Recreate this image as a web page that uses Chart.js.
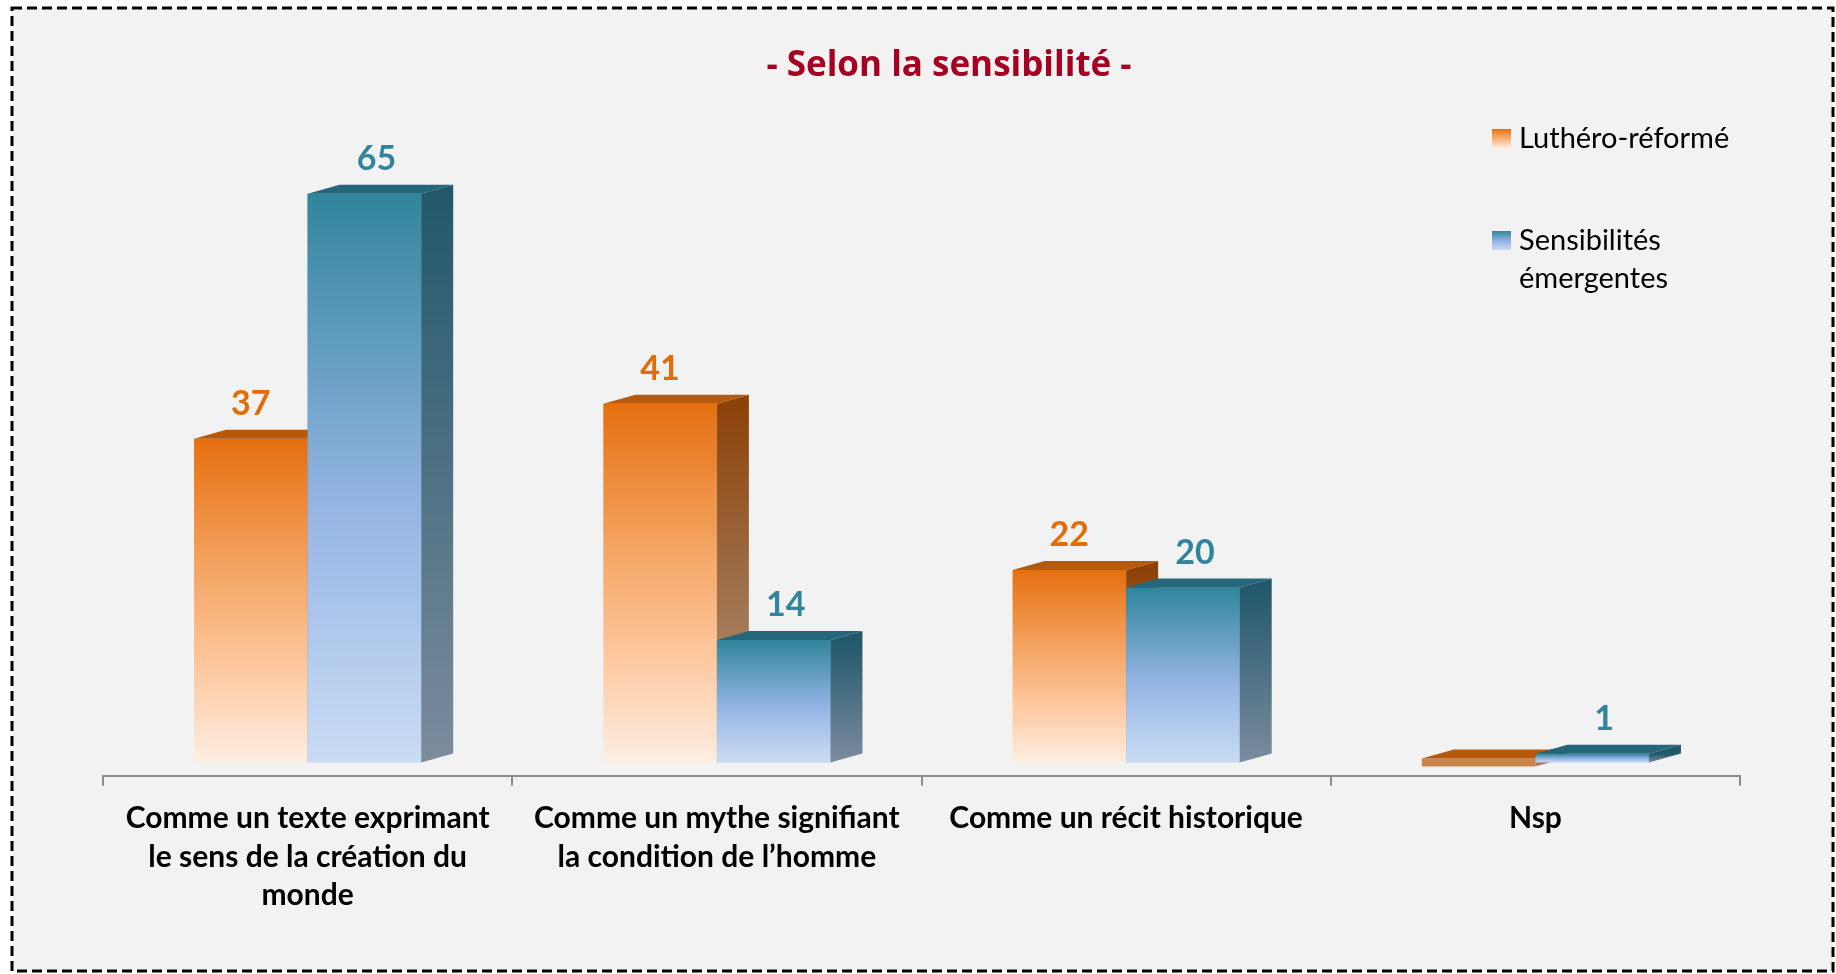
<!DOCTYPE html>
<html>
<head>
<meta charset="utf-8">
<script src="https://cdn.jsdelivr.net/npm/chart.js@4.4.0/dist/chart.umd.min.js"></script>
<style>
html,body{margin:0;padding:0;background:#fff;}
#wrap{position:absolute;left:0;top:0;width:1836px;height:974px;}
</style>
</head>
<body>
<div id="wrap"><canvas id="c" width="1836" height="974"></canvas></div>
<script>
// data
const TITLE = "- Selon la sensibilité -";
const categories = [
  ["Comme un texte exprimant", "le sens de la création du", "monde"],
  ["Comme un mythe signifiant", "la condition de l\u2019homme"],
  "Comme un récit historique",
  "Nsp"
];
const seriesNames = ["Luthéro-réformé", "Sensibilités émergentes"];
const lutheroReforme = [37, 41, 22, 0];
const sensibilitesEmergentes = [65, 14, 20, 1];

// look
const ORANGE_FRONT = [[0, "#e56f10"], [0.4, "#f4a462"], [0.7, "#fdc79d"], [1, "#fdeee2"]];
const BLUE_FRONT = [[0, "#31859c"], [0.55, "#95b5e4"], [1, "#cadcf3"]];
const ORANGE_SIDE = [[0, "#8c4208"], [1, "#b09a88"]];
const BLUE_SIDE = [[0, "#22586a"], [1, "#7c8c9f"]];
const ORANGE_TOP = "#b5590c", BLUE_TOP = "#25677a";
const LABEL_COLORS = ["#e36c0a", "#31849b"];
const DX = 32, DY = -9;

function fill(stops, flat){
  return function(c){
    const chart = c.chart;
    if(!chart.chartArea || c.type !== "data") return stops[0][1];
    if(c.raw === 0) return flat;
    const y = chart.scales.y;
    const g = chart.ctx.createLinearGradient(0, y.getPixelForValue(c.raw), 0, y.getPixelForValue(0));
    stops.forEach(s => g.addColorStop(s[0], s[1]));
    return g;
  };
}

function faces(ctx, el, sideStops, topColor){
  const p = el.getProps(["x", "y", "base", "width"], true);
  const top = Math.min(p.y, p.base), bot = Math.max(p.y, p.base);
  const l = p.x - p.width/2, r = p.x + p.width/2;
  const g = ctx.createLinearGradient(0, top, 0, bot);
  sideStops.forEach(s => g.addColorStop(s[0], s[1]));
  ctx.fillStyle = g;
  ctx.beginPath();
  ctx.moveTo(r, top); ctx.lineTo(r+DX, top+DY); ctx.lineTo(r+DX, bot+DY); ctx.lineTo(r, bot);
  ctx.closePath(); ctx.fill();
  ctx.fillStyle = topColor;
  ctx.beginPath();
  ctx.moveTo(l, top); ctx.lineTo(l+DX, top+DY); ctx.lineTo(r+DX, top+DY); ctx.lineTo(r, top);
  ctx.closePath(); ctx.fill();
}

const frame = {
  id: "frame",
  beforeDraw(chart){
    const ctx = chart.ctx;
    ctx.save();
    ctx.fillStyle = "#fff"; ctx.fillRect(0, 0, chart.width, chart.height);
    ctx.fillStyle = "#f2f2f2"; ctx.fillRect(12, 8, 1821, 963);
    ctx.strokeStyle = "#000"; ctx.lineWidth = 3; ctx.setLineDash([10, 5]);
    ctx.strokeRect(12, 8, 1821, 963);
    ctx.restore();
  }
};

const blocks = {
  id: "blocks",
  afterDatasetsDraw(chart){
    const ctx = chart.ctx;
    const mo = chart.getDatasetMeta(0), mb = chart.getDatasetMeta(1);
    ctx.save();
    mo.data.forEach(el => faces(ctx, el, ORANGE_SIDE, ORANGE_TOP));
    mb.data.forEach(el => { el.draw(ctx); faces(ctx, el, BLUE_SIDE, BLUE_TOP); });
    // values
    ctx.font = "bold 34px Lato";
    ctx.textAlign = "center"; ctx.textBaseline = "middle";
    [mo, mb].forEach((m, di) => {
      const vals = chart.data.datasets[di].data;
      m.data.forEach((el, i) => {
        if(!vals[i]) return;
        const p = el.getProps(["x", "y"], true);
        ctx.fillStyle = LABEL_COLORS[di];
        ctx.fillText(String(vals[i]), p.x + (di ? 12 : 0), p.y - 35);
      });
    });
    ctx.restore();
  },
  afterDraw(chart){
    const ctx = chart.ctx;
    ctx.save();
    ctx.font = "bold 35px 'Open Sans'";
    ctx.fillStyle = "#a50021";
    ctx.textAlign = "center"; ctx.textBaseline = "middle";
    ctx.fillText(TITLE, 949, 66);
    // legend
    ctx.font = "29px Lato";
    ctx.textAlign = "left"; ctx.textBaseline = "alphabetic";
    const sw = [ORANGE_FRONT, BLUE_FRONT];
    const ys = [129, 231];
    seriesNames.forEach((name, i) => {
      const g = ctx.createLinearGradient(0, ys[i], 0, ys[i] + 19);
      sw[i].forEach(s => g.addColorStop(s[0], s[1]));
      ctx.fillStyle = g;
      ctx.fillRect(1492, ys[i], 19, 19);
      ctx.fillStyle = "#000";
      const lines = ctx.measureText(name).width > 240 ? name.split(" ") : [name];
      lines.forEach((t, k) => ctx.fillText(t, 1519, ys[i] + 19 + k * 38));
    });
    ctx.restore();
  }
};

function build(){
  new Chart(document.getElementById("c"), {
    type: "bar",
    data: {
      labels: categories,
      datasets: [
        { label: seriesNames[0], data: lutheroReforme, backgroundColor: fill(ORANGE_FRONT, "#c8864c"),
          minBarLength: 8, categoryPercentage: 0.555, barPercentage: 1 },
        { label: seriesNames[1], data: sensibilitesEmergentes, backgroundColor: fill(BLUE_FRONT, "#c8864c"),
          categoryPercentage: 0.555, barPercentage: 1 }
      ]
    },
    options: {
      responsive: false,
      animation: false,
      layout: { padding: { left: 103, right: 96, top: 150, bottom: 46 } },
      plugins: { legend: { display: false }, title: { display: false }, tooltip: { enabled: false } },
      scales: {
        y: { display: false, min: -1.5, max: 70 },
        x: {
          grid: { display: true, drawOnChartArea: false, offset: true, tickLength: 10, color: "#8c8c8c", lineWidth: 2 },
          border: { display: true, color: "#8c8c8c", width: 2 },
          ticks: { color: "#000", autoSkip: false, maxRotation: 0, padding: 14,
                   font: { family: "Lato", weight: "bold", size: 30, lineHeight: 1.27 } }
        }
      }
    },
    plugins: [frame, blocks]
  });
}

Promise.all([
  document.fonts.load("bold 30px Lato"),
  document.fonts.load("29px Lato"),
  document.fonts.load("bold 35px 'Open Sans'")
]).then(build, build);
</script>
</body>
</html>
